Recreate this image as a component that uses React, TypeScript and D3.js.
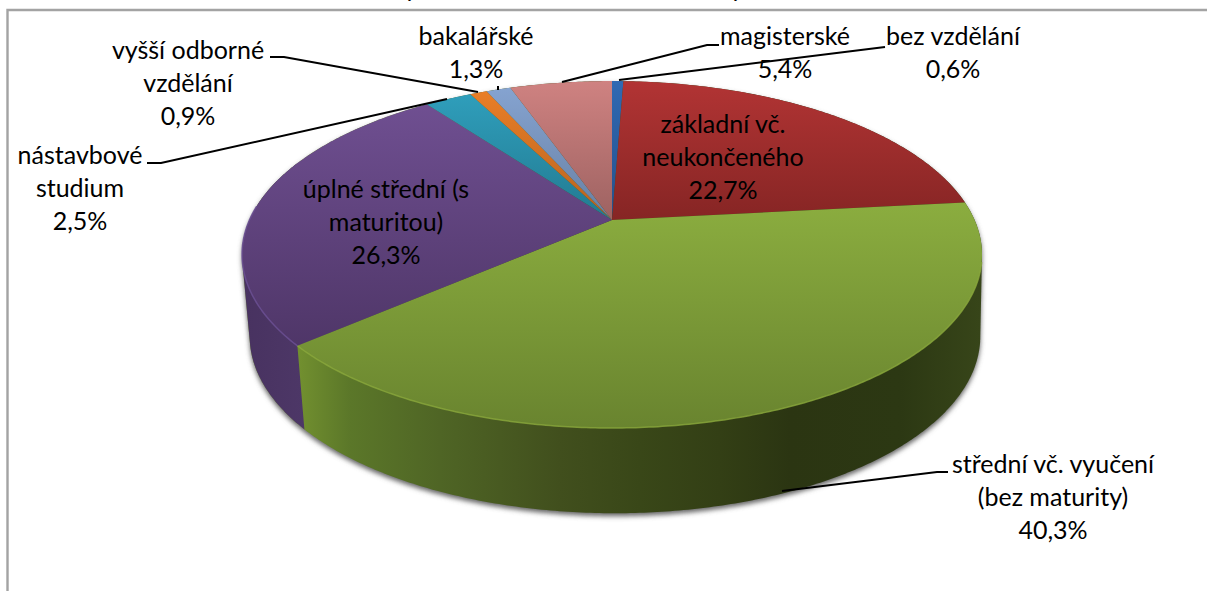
import * as d3 from 'd3';

// values, in drawing order (clockwise from 12 o'clock)
const categories = [
  'bez vzdělání',
  'základní vč. neukončeného',
  'střední vč. vyučení (bez maturity)',
  'úplné střední (s maturitou)',
  'nástavbové studium',
  'vyšší odborné vzdělání',
  'bakalářské',
  'magisterské',
];
const percents = [0.6, 22.7, 40.3, 26.3, 2.5, 0.9, 1.3, 5.4];
const topColors = ['#3069b3', '#b23434', '#8bad3f', '#6f4f91', '#2f9ebb', '#e97e27', '#85a3d0', '#cf8281'];
const bottomColors = ['#24508a', '#862524', '#69842f', '#4f3668', '#227a91', '#b66320', '#6880a3', '#9d6261'];

// label lines, in the same order as categories
const labelLines = [
  ['bez vzdělání', '0,6%'],
  ['základní vč.', 'neukončeného', '22,7%'],
  ['střední vč. vyučení', '(bez maturity)', '40,3%'],
  ['úplné střední (s', 'maturitou)', '26,3%'],
  ['nástavbové', 'studium', '2,5%'],
  ['vyšší odborné', 'vzdělání', '0,9%'],
  ['bakalářské', '1,3%'],
  ['magisterské', '5,4%'],
];
const labelPos = [
  [953, 45],
  [723, 133],
  [1053, 473],
  [386, 198],
  [80, 164],
  [188, 59],
  [476, 45],
  [785, 45],
];
const lineGap = 33;

const leaders = [
  [[619, 80], [885, 47]],
  [],
  [[782, 491], [937, 472], [948, 472]],
  [],
  [[447, 99], [161, 163], [147, 163]],
  [[478, 92], [284, 57], [270, 57]],
  [[498, 86], [498, 90]],
  [[562, 82], [707, 45], [719, 45]],
];

// side wall shading runs left to right
const greenWall = [
  [300, '#718f2f'],
  [350, '#5b7729'],
  [440, '#4f6525'],
  [560, '#414f1d'],
  [640, '#394718'],
  [720, '#333f15'],
  [790, '#2b3512'],
  [900, '#2c3813'],
  [980, '#374519'],
];

const W = 1207;
const H = 591;
const K = 0.199; // perspective strength of the tilted disc
const topPlane = { cx: 612, cy: 220, a: 362.6, b: 166.6 };
const basePlane = { cx: 615, cy: 301, a: 358, b: 170 };

// project a pie angle (0 = 12 o'clock, clockwise) onto a plane
const project = (plane: typeof topPlane, t: number): [number, number] => {
  const u = Math.sin(t);
  const v = -Math.cos(t);
  const w = 1 - K * v;
  return [plane.cx + (plane.a * u) / w, plane.cy + (plane.b * v) / w];
};

const arcPoints = (plane: typeof topPlane, a0: number, a1: number) => {
  const n = Math.max(2, Math.ceil((a1 - a0) / 0.01));
  return d3.range(n + 1).map((i) => project(plane, a0 + ((a1 - a0) * i) / n));
};

const line = d3.line();
const pie = d3.pie<number>().sort(null).value((d) => d);

export default function App() {
  const slices = pie(percents);
  const full = 2 * Math.PI;
  const green = slices[2];
  const purple = slices[3];

  // whole body of the drum: hull of the top and the base outlines
  const hull = d3.polygonHull([
    ...arcPoints(topPlane, 0, full),
    ...arcPoints(basePlane, 0, full),
  ]) as [number, number][];
  const body = line(hull) + 'Z';

  // the green/purple seam splits the body in two
  const seamTop = project(topPlane, purple.startAngle);
  const seamBase = project(basePlane, purple.startAngle);
  const purpleSide = line([[seamTop[0], 0], seamTop, seamBase, [seamBase[0], H], [0, H], [0, 0]]) + 'Z';

  return (
    <svg
      width={W}
      height={H}
      viewBox={`0 0 ${W} ${H}`}
      style={{ position: 'absolute', left: 0, top: 0, background: '#fff' }}
      fontFamily="Lato, 'Open Sans', sans-serif"
      fontSize={25}
    >
      <defs>
        <filter id="soft" x="-10%" y="-10%" width="120%" height="120%">
          <feGaussianBlur stdDeviation="2.5" />
        </filter>
        <clipPath id="purpleClip">
          <path d={purpleSide} />
        </clipPath>
        {slices.map((s, i) => (
          <linearGradient key={i} id={`top${i}`} x1="0" y1="0" x2="0" y2="1">
            <stop offset="0" stopColor={topColors[i]} />
            <stop offset="1" stopColor={bottomColors[i]} />
          </linearGradient>
        ))}
        <linearGradient id="wallGreen" gradientUnits="userSpaceOnUse" x1={300} y1={0} x2={980} y2={0}>
          {greenWall.map(([x, c], i) => (
            <stop key={i} offset={((x as number) - 300) / 680} stopColor={c as string} />
          ))}
        </linearGradient>
        <linearGradient id="wallPurple" gradientUnits="userSpaceOnUse" x1={243} y1={0} x2={305} y2={0}>
          <stop offset="0" stopColor="#483260" />
          <stop offset="1" stopColor="#4d3767" />
        </linearGradient>
      </defs>

      {/* chart frame, only top and left edges are in the crop */}
      <path d={`M7.5,${H}V10H${W}`} fill="none" stroke="#a3a3a3" strokeWidth={2.4} />

      {/* what is left of the cropped title */}
      <text x={405} y={-3} fill="#000">y</text>
      <text x={731} y={-3} fill="#000">y</text>

      <path d={body} fill="#666" filter="url(#soft)" transform="translate(0,3)" />

      <path d={body} fill="url(#wallGreen)" />
      <path d={body} fill="url(#wallPurple)" clipPath="url(#purpleClip)" />

      {slices.map((s, i) => (
        <path
          key={i}
          d={line([[topPlane.cx, topPlane.cy], ...arcPoints(topPlane, s.startAngle, s.endAngle)]) + 'Z'}
          fill={`url(#top${i})`}
        />
      ))}

      {/* lit rim along the front edge */}
      <path
        d={line(arcPoints(topPlane, green.startAngle + 0.35, green.endAngle)) as string}
        fill="none"
        stroke="#8aa83c"
        strokeWidth={1.5}
        opacity={0.8}
      />
      <path
        d={line(arcPoints(topPlane, purple.startAngle, purple.startAngle + 0.8)) as string}
        fill="none"
        stroke="#6d5196"
        strokeWidth={1.5}
        opacity={0.8}
      />

      {leaders.map((pts, i) =>
        pts.length ? (
          <path
            key={i}
            d={line(pts as [number, number][]) as string}
            fill="none"
            stroke="#000"
            strokeWidth={2}
          />
        ) : null
      )}

      {labelLines.map((lines, i) => (
        <text key={categories[i]} textAnchor="middle" fill="#000">
          {lines.map((t, j) => (
            <tspan key={j} x={labelPos[i][0]} y={labelPos[i][1] + j * lineGap}>
              {t}
            </tspan>
          ))}
        </text>
      ))}
    </svg>
  );
}
